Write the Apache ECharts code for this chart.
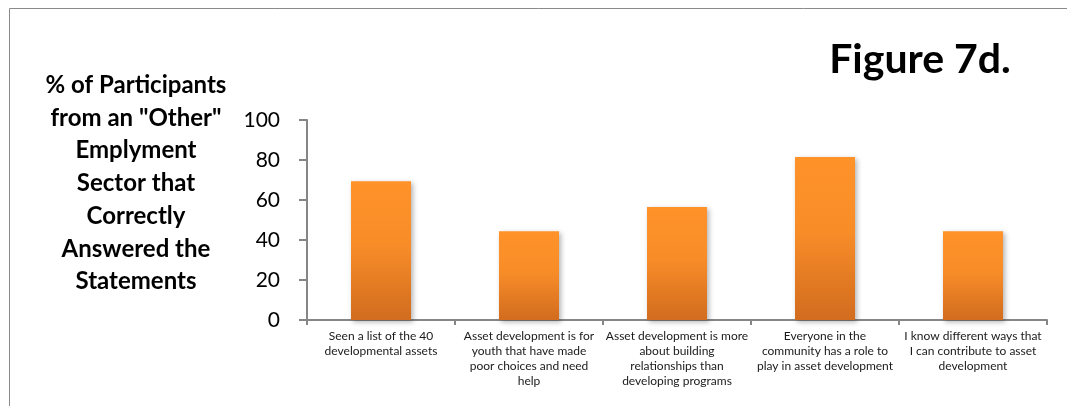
<!DOCTYPE html>
<html><head><meta charset="utf-8">
<script src="https://cdn.jsdelivr.net/npm/echarts@6/dist/echarts.min.js"></script>
<style>html,body{margin:0;padding:0;background:#fff}#c{width:1067px;height:406px}</style>
</head><body><div id="c"></div>
<script>
const categories = [
  "Seen a list of the 40\ndevelopmental assets",
  "Asset development is for\nyouth that have made\npoor choices and need\nhelp",
  "Asset development is more\nabout building\nrelationships than\ndeveloping programs",
  "Everyone in the\ncommunity has a role to\nplay in asset development",
  "I know different ways that\nI can contribute to asset\ndevelopment"
];
const values = [69.4, 44.4, 56.5, 81.5, 44.4];
const yTicks = [0, 20, 40, 60, 80, 100];
const titleText = "Figure 7d.";
const yTitleLines = ["% of Participants", "from an \"Other\"", "Emplyment", "Sector that", "Correctly", "Answered the", "Statements"];

const chart = echarts.init(document.getElementById('c'));
const FONT = 'Lato';
chart.setOption({
  animation: false,
  backgroundColor: '#fff',
  grid: {left: 307, right: 20, top: 120, bottom: 86},
  graphic: [
    {type: 'rect', shape: {x: 9.5, y: 8.5, width: 1100, height: 500}, style: {fill: 'none', stroke: '#8a8a8a', lineWidth: 1}},
    {type: 'text', x: 920, y: 39, style: {text: titleText, font: 'bold 41px ' + FONT, fill: '#000', textAlign: 'center'}},
    {type: 'text', x: 136, y: 69, style: {text: yTitleLines.join('\n'), font: 'bold 24px ' + FONT, fill: '#000', textAlign: 'center', lineHeight: 32.7}}
  ],
  xAxis: {
    type: 'category', data: categories,
    axisLine: {lineStyle: {color: '#868686', width: 2}},
    axisTick: {show: true, length: 5, lineStyle: {color: '#868686', width: 2}},
    axisLabel: {interval: 0, fontFamily: FONT, fontSize: 12, color: '#1a1a1a', lineHeight: 15, margin: 9, align: 'center'}
  },
  yAxis: {
    type: 'value', min: 0, max: 100, interval: 20,
    splitLine: {show: false},
    axisLine: {show: true, lineStyle: {color: '#868686', width: 2}},
    axisTick: {show: true, length: 8, lineStyle: {color: '#868686', width: 2}},
    axisLabel: {fontFamily: FONT, fontSize: 21, color: '#000', margin: 27,
      formatter: v => yTicks.includes(v) ? String(v) : ''}
  },
  series: [{
    type: 'bar', data: values, barWidth: 60,
    itemStyle: {
      color: new echarts.graphic.LinearGradient(0, 0, 0, 1, [
        {offset: 0, color: '#FF9229'}, {offset: 0.45, color: '#F88D28'}, {offset: 1, color: '#D26C1F'}
      ]),
      shadowBlur: 5, shadowColor: 'rgba(0,0,0,0.3)', shadowOffsetX: 2, shadowOffsetY: 2
    }
  }]
});
</script></body></html>
